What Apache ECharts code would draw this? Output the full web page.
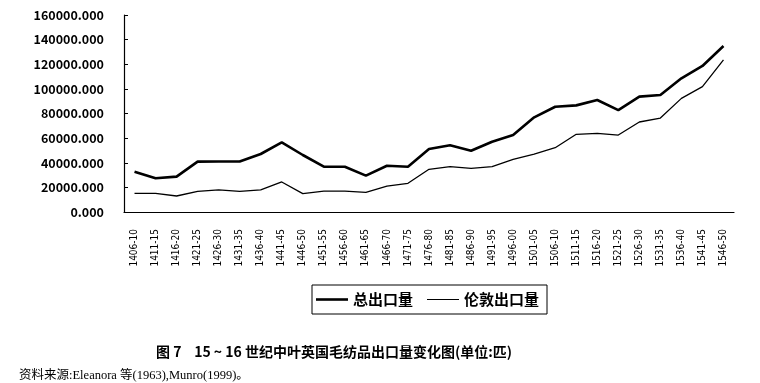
<!DOCTYPE html>
<html><head><meta charset="utf-8">
<script src="https://cdn.jsdelivr.net/npm/echarts@6/dist/echarts.min.js"></script>
<style>html,body{margin:0;padding:0;background:#fff}#c{width:760px;height:383px}</style>
</head><body><div id="c"></div>
<script>
const categories = ["1406-10","1411-15","1416-20","1421-25","1426-30","1431-35","1436-40","1441-45","1446-50","1451-55","1456-60","1461-65","1466-70","1471-75","1476-80","1481-85","1486-90","1491-95","1496-00","1501-05","1506-10","1511-15","1516-20","1521-25","1526-30","1531-35","1536-40","1541-45","1546-50"];
const totalExport = [32700,27400,28700,40900,41000,41000,47100,56600,46300,36800,36800,29500,37600,36800,51200,54200,49800,57100,62500,76900,85500,86600,91000,82800,93700,95000,108600,118600,134800];
const londonExport = [15200,15200,13000,16800,17900,16800,17900,24400,14900,17000,17000,16000,21100,23300,34700,36800,35500,36800,42800,47100,52200,63100,63900,62500,73100,76300,92300,101800,123500];
const seriesNames = ["总出口量","伦敦出口量"];
const yMin = 0, yMax = 160000, yStep = 20000;
const titleText = "图 7    15 ~ 16 世纪中叶英国毛纺品出口量变化图(单位:匹)";
const sourceText = "资料来源:Eleanora 等(1963),Munro(1999)。";

const chart = echarts.init(document.getElementById('c'), null, {renderer:'canvas'});
chart.setOption({
  backgroundColor:'#fff',
  animation:false,
  title:[
    {text:titleText, left:151, top:340, textStyle:{fontFamily:'Noto Sans CJK SC', fontSize:14, fontWeight:'bold', color:'#000'}},
    {text:sourceText, left:14, top:364, textStyle:{fontFamily:'Liberation Serif, Noto Sans CJK SC', fontSize:12.5, fontWeight:'normal', color:'#000'}}
  ],
  legend:{
    left:312, top:285, width:236,
    padding:[7,8,7,4],
    borderColor:'#000', borderWidth:1,
    itemWidth:32, itemHeight:14, itemGap:14,
    textStyle:{fontFamily:'Noto Sans CJK SC', fontSize:15, fontWeight:'bold', color:'#000'},
    data:[
      {name:seriesNames[0], icon:'path://M0,0H32V2.6H0Z'},
      {name:seriesNames[1], icon:'path://M0,0H32V1.2H0Z'}
    ]
  },
  grid:{left:124, right:26, top:15, bottom:171},
  xAxis:{
    type:'category', data:categories, boundaryGap:true,
    axisLine:{lineStyle:{color:'#000', width:1.2}},
    axisTick:{inside:true, length:4, lineStyle:{color:'#000'}},
    axisLabel:{rotate:90, margin:17, fontFamily:'DejaVu Sans Condensed', fontSize:10, color:'#000', interval:0}
  },
  yAxis:{
    type:'value', min:yMin, max:yMax, interval:yStep,
    splitLine:{show:false},
    axisLine:{show:true, lineStyle:{color:'#000', width:1.2}},
    axisTick:{show:true, inside:true, length:4, lineStyle:{color:'#000'}},
    axisLabel:{margin:20, fontFamily:'Noto Sans CJK SC', fontSize:12.5, fontWeight:'bold', color:'#000',
      formatter:v=>v.toFixed(3)}
  },
  series:[
    {name:seriesNames[0], type:'line', data:totalExport, symbol:'none', lineStyle:{color:'#000', width:2.6}, itemStyle:{color:'#000'}},
    {name:seriesNames[1], type:'line', data:londonExport, symbol:'none', lineStyle:{color:'#000', width:1.3}, itemStyle:{color:'#000'}}
  ]
});
</script></body></html>
